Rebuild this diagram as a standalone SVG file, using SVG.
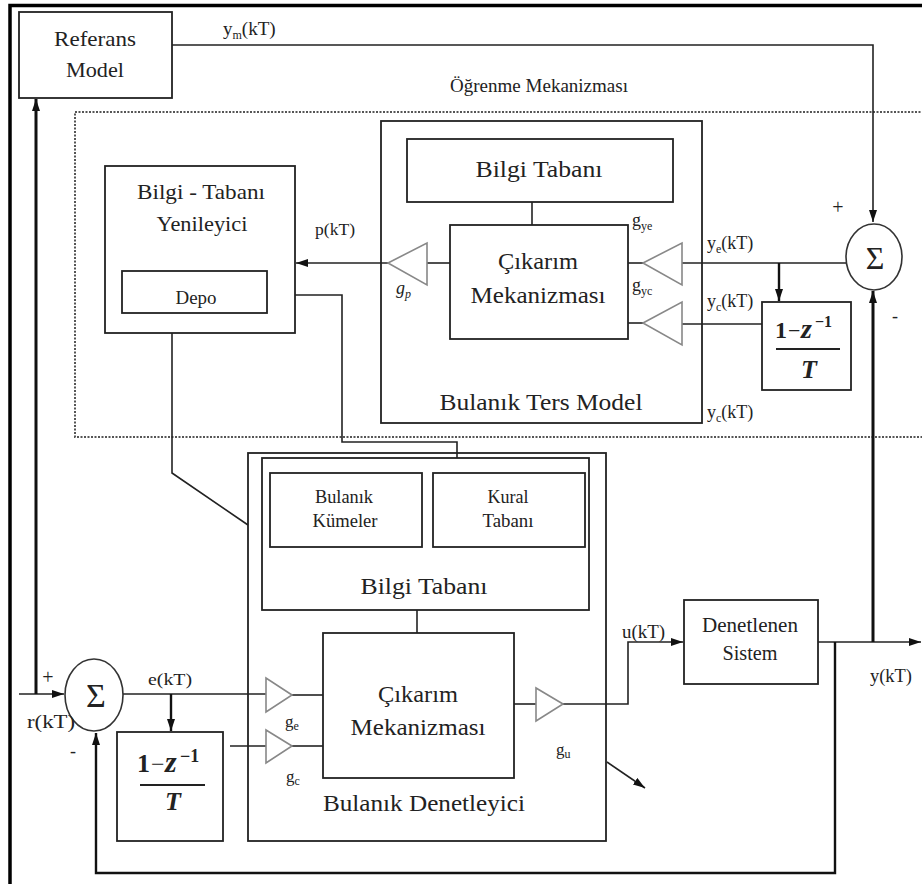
<svg xmlns="http://www.w3.org/2000/svg" width="922" height="884" viewBox="0 0 922 884">
<defs>
<marker id="arr" viewBox="0 0 12 8" refX="12" refY="4" markerWidth="12" markerHeight="8" markerUnits="userSpaceOnUse" orient="auto">
<path d="M0,0 L12,4 L0,8 z" fill="#111"/>
</marker>
</defs>
<style>
.box{fill:#fff;stroke:#222;stroke-width:1.8}
.nb{fill:none;stroke:#222;stroke-width:1.8}
.tri{fill:#fff;stroke:#888;stroke-width:1.6}
.ln{fill:none;stroke:#222;stroke-width:1.6}
.thk{fill:none;stroke:#111;stroke-width:3}
.med{fill:none;stroke:#111;stroke-width:2.4}
.dot{fill:none;stroke:#555;stroke-width:2;stroke-dasharray:2 1.5}
.t{font-family:'Liberation Serif','DejaVu Serif','Noto Serif','Times New Roman',serif;fill:#222}
.m{text-anchor:middle}
.s{font-size:12px}
.fb{font-weight:bold}
.fbi{font-weight:bold;font-style:italic}
</style>
<rect width="922" height="884" fill="#fff"/>
<path d="M10,884 V5.5 H922" fill="none" stroke="#000" stroke-width="3.5"/>

<g id="learning">
<rect class="dot" x="75" y="112" width="900" height="325"/>
<text class="t" x="450" y="92" font-size="19" textLength="178" lengthAdjust="spacingAndGlyphs">Öğrenme Mekanizması</text>
</g>

<g id="connectors">
<path class="ln" d="M172,45 H873 V222" marker-end="url(#arr)"/>
<path class="ln" d="M19,694 H64" marker-end="url(#arr)"/>
<path class="thk" d="M36,694 V99" marker-end="url(#arr)"/>
<path class="ln" d="M123,694 H266"/>
<path class="med" d="M171,694 V731" marker-end="url(#arr)"/>
<path class="ln" d="M230,746 H266"/>
<path class="ln" d="M292,695 H323"/>
<path class="ln" d="M292,746 H323"/>
<path class="ln" d="M417,610 V633"/>
<path class="ln" d="M514,704 H536"/>
<path class="ln" d="M563,704 H628 V642 H683" marker-end="url(#arr)"/>
<path class="ln" d="M818,642 H921" marker-end="url(#arr)"/>
<path class="med" d="M835,642 V873 H96 V733" marker-end="url(#arr)"/>
<path class="thk" d="M873,642 V291" marker-end="url(#arr)"/>
<path class="ln" d="M846,263 H682"/>
<path class="med" d="M779,263 V301" marker-end="url(#arr)"/>
<path class="ln" d="M762,324 H682"/>
<path class="ln" d="M643,263 H628"/>
<path class="ln" d="M643,323 H628"/>
<path class="ln" d="M532,202 V225"/>
<path class="ln" d="M450,263 H427"/>
<path class="ln" d="M388,263 H296" marker-end="url(#arr)"/>
<path class="ln" d="M457,473 V442 H342 V295 H268" marker-end="url(#arr)"/>
<path class="ln" d="M172,333 V473 L248,525"/>
<path class="ln" d="M607,762 L645,788" marker-end="url(#arr)"/>
</g>

<g id="referans-model">
<rect class="box" x="19" y="12" width="153" height="86"/>
<text class="t m" x="95" y="46" font-size="22" textLength="82" lengthAdjust="spacingAndGlyphs">Referans</text>
<text class="t m" x="95" y="77" font-size="22" textLength="58" lengthAdjust="spacingAndGlyphs">Model</text>
</g>
<text class="t" x="223" y="35" font-size="19">y<tspan class="s" dy="4">m</tspan><tspan dy="-4">(kT)</tspan></text>

<g id="sum-top">
<ellipse cx="874" cy="257" rx="28" ry="33" fill="#fff" stroke="#333" stroke-width="1.6"/>
<text class="t m" x="875" y="269" font-size="32">Σ</text>
<text class="t m" x="838" y="214" font-size="20">+</text>
<text class="t m" x="895" y="322" font-size="18">-</text>
</g>

<g id="yenileyici">
<rect class="box" x="105" y="166" width="190" height="167"/>
<text class="t m" x="201" y="199" font-size="22" textLength="128" lengthAdjust="spacingAndGlyphs">Bilgi - Tabanı</text>
<text class="t m" x="202" y="231" font-size="22" textLength="91" lengthAdjust="spacingAndGlyphs">Yenileyici</text>
<rect class="box" x="122" y="271" width="145" height="42"/>
<text class="t m" x="196" y="304" font-size="18" textLength="41" lengthAdjust="spacingAndGlyphs">Depo</text>
</g>
<text class="t" x="315" y="235" font-size="16" textLength="40" lengthAdjust="spacingAndGlyphs">p(kT)</text>

<g id="ters-model">
<rect class="nb" x="381" y="121" width="321" height="302"/>
<rect class="box" x="407" y="139" width="266" height="63"/>
<text class="t m" x="539" y="177" font-size="24" textLength="127" lengthAdjust="spacingAndGlyphs">Bilgi Tabanı</text>
<rect class="box" x="450" y="225" width="178" height="114"/>
<text class="t m" x="538" y="269" font-size="24" textLength="80" lengthAdjust="spacingAndGlyphs">Çıkarım</text>
<text class="t m" x="538" y="303" font-size="24" textLength="135" lengthAdjust="spacingAndGlyphs">Mekanizması</text>
<text class="t m" x="541" y="410" font-size="24" textLength="203" lengthAdjust="spacingAndGlyphs">Bulanık Ters Model</text>
</g>

<g id="gp"><polygon class="tri" points="388,263 427,243 427,285"/>
<text class="t" x="396" y="294" font-size="18" font-style="italic">g<tspan class="s" dy="4">p</tspan></text></g>
<g id="gye"><polygon class="tri" points="643,263 682,243 682,285"/>
<text class="t" x="632" y="226" font-size="18">g<tspan class="s" dy="4">ye</tspan></text></g>
<g id="gyc"><polygon class="tri" points="643,323 682,302 682,345"/>
<text class="t" x="632" y="291" font-size="18">g<tspan class="s" dy="4">yc</tspan></text></g>

<text class="t" x="707" y="249" font-size="18">y<tspan class="s" dy="4">e</tspan><tspan dy="-4">(kT)</tspan></text>
<text class="t" x="707" y="307" font-size="18">y<tspan class="s" dy="4">c</tspan><tspan dy="-4">(kT)</tspan></text>
<text class="t" x="707" y="418" font-size="18">y<tspan class="s" dy="4">c</tspan><tspan dy="-4">(kT)</tspan></text>

<g id="delta-top">
<rect class="box" x="762" y="302" width="89" height="88"/>
<text class="t" y="338" font-size="24"><tspan class="fb" x="775">1</tspan><tspan x="788" font-size="22">−</tspan><tspan class="fbi" x="801" font-size="28">z</tspan><tspan class="fb" x="815" y="327" font-size="16">−1</tspan></text>
<line x1="776" y1="349" x2="840" y2="349" stroke="#222" stroke-width="2"/>
<text class="t m fbi" x="809" y="378" font-size="26">T</text>
</g>

<g id="sum-bottom">
<ellipse cx="94" cy="695" rx="29" ry="36" fill="#fff" stroke="#333" stroke-width="1.6"/>
<text class="t m" x="96" y="707" font-size="34">Σ</text>
<text class="t m" x="48" y="684" font-size="20">+</text>
<text class="t m" x="73" y="757" font-size="18">-</text>
</g>
<text class="t" x="27" y="728" font-size="18" textLength="48" lengthAdjust="spacingAndGlyphs">r(kT)</text>
<text class="t" x="148" y="685" font-size="17" textLength="44" lengthAdjust="spacingAndGlyphs">e(kT)</text>

<g id="delta-bottom">
<rect class="box" x="117" y="732" width="106" height="109"/>
<text class="t" y="772" font-size="26"><tspan class="fb" x="137">1</tspan><tspan x="151" font-size="24">−</tspan><tspan class="fbi" x="165" font-size="30">z</tspan><tspan class="fb" x="180" y="762" font-size="18">−1</tspan></text>
<line x1="140" y1="785" x2="205" y2="785" stroke="#222" stroke-width="2"/>
<text class="t m fbi" x="173" y="810" font-size="26">T</text>
</g>

<g id="denetleyici">
<rect class="nb" x="248" y="453" width="358" height="388"/>
<rect class="box" x="262" y="458" width="327" height="152"/>
<rect class="box" x="270" y="473" width="152" height="74"/>
<text class="t m" x="344" y="503" font-size="18" textLength="58" lengthAdjust="spacingAndGlyphs">Bulanık</text>
<text class="t m" x="345" y="527" font-size="18" textLength="65" lengthAdjust="spacingAndGlyphs">Kümeler</text>
<rect class="box" x="433" y="473" width="152" height="74"/>
<text class="t m" x="508" y="503" font-size="18" textLength="41" lengthAdjust="spacingAndGlyphs">Kural</text>
<text class="t m" x="508" y="527" font-size="18" textLength="51" lengthAdjust="spacingAndGlyphs">Tabanı</text>
<text class="t m" x="424" y="594" font-size="24" textLength="127" lengthAdjust="spacingAndGlyphs">Bilgi Tabanı</text>
<rect class="box" x="323" y="633" width="191" height="145"/>
<text class="t m" x="418" y="702" font-size="24" textLength="80" lengthAdjust="spacingAndGlyphs">Çıkarım</text>
<text class="t m" x="418" y="735" font-size="24" textLength="135" lengthAdjust="spacingAndGlyphs">Mekanizması</text>
<text class="t m" x="424" y="811" font-size="24" textLength="202" lengthAdjust="spacingAndGlyphs">Bulanık Denetleyici</text>
</g>

<g id="ge"><polygon class="tri" points="292,695 266,678 266,712"/>
<text class="t" x="285" y="727" font-size="17">g<tspan class="s" dy="3">e</tspan></text></g>
<g id="gc"><polygon class="tri" points="292,746 266,730 266,763"/>
<text class="t" x="286" y="782" font-size="17">g<tspan class="s" dy="3">c</tspan></text></g>
<g id="gu"><polygon class="tri" points="563,704 536,688 536,721"/>
<text class="t" x="556" y="755" font-size="17">g<tspan class="s" dy="3">u</tspan></text></g>

<text class="t" x="622" y="638" font-size="18" textLength="43" lengthAdjust="spacingAndGlyphs">u(kT)</text>

<g id="denetlenen-sistem">
<rect class="box" x="684" y="600" width="134" height="84"/>
<text class="t m" x="750" y="632" font-size="20" textLength="96" lengthAdjust="spacingAndGlyphs">Denetlenen</text>
<text class="t m" x="750" y="660" font-size="20" textLength="55" lengthAdjust="spacingAndGlyphs">Sistem</text>
</g>
<text class="t" x="870" y="682" font-size="18" textLength="42" lengthAdjust="spacingAndGlyphs">y(kT)</text>
</svg>
